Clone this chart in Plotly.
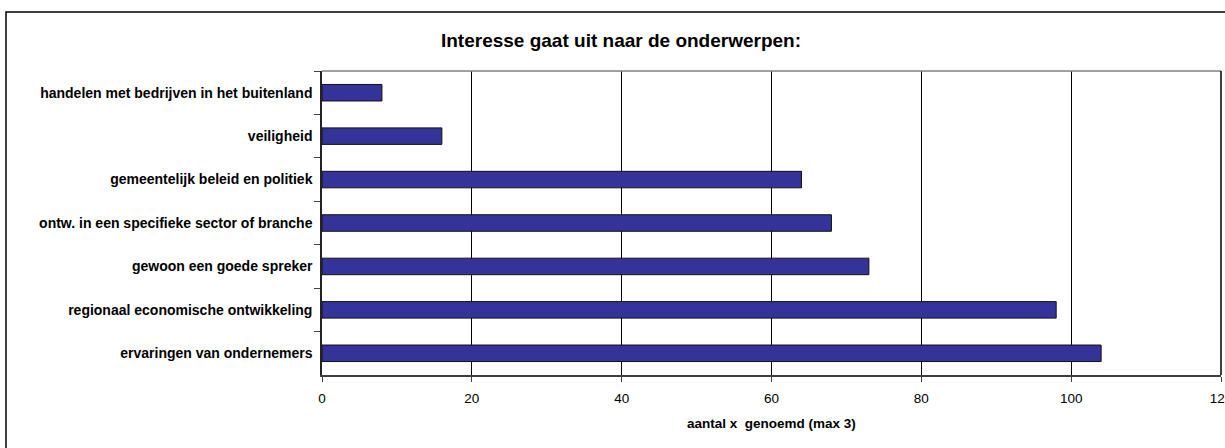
import plotly.graph_objects as go

categories = [
    "handelen met bedrijven in het buitenland",
    "veiligheid",
    "gemeentelijk beleid en politiek",
    "ontw. in een specifieke sector of branche",
    "gewoon een goede spreker",
    "regionaal economische ontwikkeling",
    "ervaringen van ondernemers",
]
values = [8, 16, 64, 68, 73, 98, 104]
x_ticks = [0, 20, 40, 60, 80, 100, 120]

title_text = "Interesse gaat uit naar de onderwerpen:"
x_title = "aantal x  genoemd (max 3)"

fig = go.Figure(
    go.Bar(
        x=values,
        y=categories,
        orientation="h",
        width=0.38,
        marker=dict(color="#333399", line=dict(color="#111111", width=1)),
        hoverinfo="skip",
    )
)

font_family = "Arial, 'Liberation Sans', sans-serif"

fig.update_layout(
    width=1225,
    height=448,
    margin=dict(l=322, r=4, t=71, b=73, autoexpand=False),
    paper_bgcolor="white",
    plot_bgcolor="white",
    showlegend=False,
    font=dict(family=font_family, color="black", size=12),
    title=dict(
        text=title_text,
        x=621 / 1225,
        xanchor="center",
        y=1 - 40 / 448,
        yanchor="middle",
        font=dict(size=19, weight="bold", family=font_family, color="black"),
    ),
)

fig.update_xaxes(
    range=[0, 120],
    tickvals=x_ticks,
    ticktext=[str(v) for v in x_ticks],
    showgrid=True,
    gridcolor="black",
    gridwidth=1,
    zeroline=False,
    showline=True,
    linecolor="#404040",
    linewidth=2,
    ticks="outside",
    ticklen=5,
    tickcolor="#404040",
    tickfont=dict(size=13.5, family=font_family, color="black"),
    ticklabelstandoff=5,
    ticklabeloverflow="allow",
    automargin=False,
)

fig.update_yaxes(
    autorange="reversed",
    showgrid=False,
    zeroline=False,
    showline=True,
    linecolor="#222222",
    linewidth=1.5,
    ticks="outside",
    ticklen=6,
    tickcolor="#444444",
    tickson="boundaries",
    tickfont=dict(size=14, family=font_family, color="black", weight="bold"),
    ticklabelstandoff=5,
    automargin=False,
)

# x-axis title
fig.add_annotation(
    text=x_title,
    xref="paper", yref="paper",
    x=0.5, y=0,
    xanchor="center", yanchor="middle",
    yshift=-48,
    showarrow=False,
    font=dict(size=13.5, weight="bold", family=font_family, color="black"),
)

# plot area top (gray) and right (black) borders
fig.add_shape(type="line", xref="paper", yref="paper", x0=0, x1=1, y0=1, y1=1,
              line=dict(color="#808080", width=1.5))
fig.add_shape(type="line", xref="paper", yref="paper", x0=1, x1=1, y0=0, y1=1,
              line=dict(color="black", width=1.5))

# outer chart border (extends beyond right and bottom edges)
fig.add_shape(type="rect", xref="paper", yref="paper",
              x0=(6 - 322) / 899, x1=1.2,
              y0=-0.6, y1=1 + (71 - 12) / 304,
              line=dict(color="black", width=1.5), fillcolor="rgba(0,0,0,0)")

fig.write_html(
    "out.html",
    config={"displayModeBar": False},
    post_script="document.body.style.margin='0';document.body.style.overflow='hidden';",
)
